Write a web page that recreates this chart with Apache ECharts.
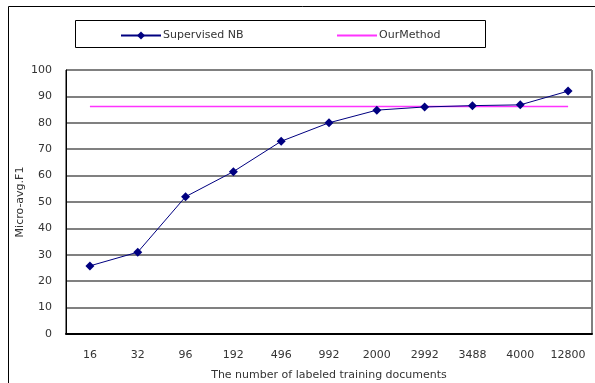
<!DOCTYPE html>
<html><head><meta charset="utf-8">
<script src="https://cdn.jsdelivr.net/npm/echarts@6/dist/echarts.min.js"></script>
<style>html,body{margin:0;padding:0;background:#fff}#c{width:595px;height:383px}</style>
</head><body><div id="c"></div>
<script>
var categories = ['16','32','96','192','496','992','2000','2992','3488','4000','12800'];
var supervisedNB = [25.8, 31, 52, 61.5, 73, 80, 84.8, 86, 86.5, 86.8, 92];
var ourMethod = [86.2, 86.2, 86.2, 86.2, 86.2, 86.2, 86.2, 86.2, 86.2, 86.2, 86.2];
var yTicks = {min: 0, max: 100, interval: 10};

var chart = echarts.init(document.getElementById('c'), null, {renderer: 'canvas'});
var font = 'DejaVu Sans';
chart.setOption({
  animation: false,
  backgroundColor: '#fff',
  graphic: [
    {type: 'rect', shape: {x: 8.5, y: 6.5, width: 620, height: 400}, style: {fill: 'none', stroke: '#000', lineWidth: 1}, z: -1},
    {type: 'rect', shape: {x: 75.5, y: 20.5, width: 410, height: 27}, style: {fill: '#fff', stroke: '#000', lineWidth: 1}, z: 0}
  ],
  legend: [
    {data: ['Supervised NB'], left: 120, top: 30, itemWidth: 40, itemHeight: 10, padding: 0,
     textStyle: {fontFamily: font, fontSize: 11, color: '#333', padding: [0,0,0,-3]}},
    {data: [{name: 'OurMethod', itemStyle: {opacity: 0}}], left: 336, top: 30, itemWidth: 40, itemHeight: 10, padding: 0,
     textStyle: {fontFamily: font, fontSize: 11, color: '#333', padding: [0,0,0,-3]}}
  ],
  grid: {left: 66, right: 3, top: 70, bottom: 49, containLabel: false, outerBoundsMode: 'none',
         show: true, borderColor: '#000', borderWidth: 1},
  xAxis: {
    type: 'category', data: categories, boundaryGap: true,
    name: 'The number of labeled training documents', nameLocation: 'middle', nameGap: 36,
    nameMoveOverlap: false,
    nameTextStyle: {fontFamily: font, fontSize: 11, color: '#333'},
    axisLine: {lineStyle: {color: '#000', width: 2}},
    axisTick: {inside: true, length: 5, lineStyle: {color: '#000'}},
    axisLabel: {fontFamily: font, fontSize: 11, color: '#333', margin: 16, interval: 0},
    splitLine: {show: false}
  },
  yAxis: {
    type: 'value', min: yTicks.min, max: yTicks.max, interval: yTicks.interval,
    name: 'Micro-avg.F1', nameLocation: 'middle', nameGap: 40, nameRotate: 90,
    nameMoveOverlap: false,
    nameTextStyle: {fontFamily: font, fontSize: 11, color: '#333'},
    axisLine: {show: true, lineStyle: {color: '#000', width: 1}},
    axisTick: {show: false},
    axisLabel: {fontFamily: font, fontSize: 11, color: '#333', margin: 14},
    splitLine: {lineStyle: {color: '#808080', width: 2}}
  },
  series: [
    {name: 'Supervised NB', type: 'line', data: supervisedNB,
     symbol: 'diamond', symbolSize: 9, showAllSymbol: true,
     lineStyle: {color: '#000080', width: 1}, itemStyle: {color: '#000080'}, z: 3},
    {name: 'OurMethod', type: 'line', data: ourMethod, symbol: 'none',
     lineStyle: {color: '#ff33ff', width: 1.5}, itemStyle: {color: '#ff33ff'}, z: 2}
  ]
});
</script></body></html>
